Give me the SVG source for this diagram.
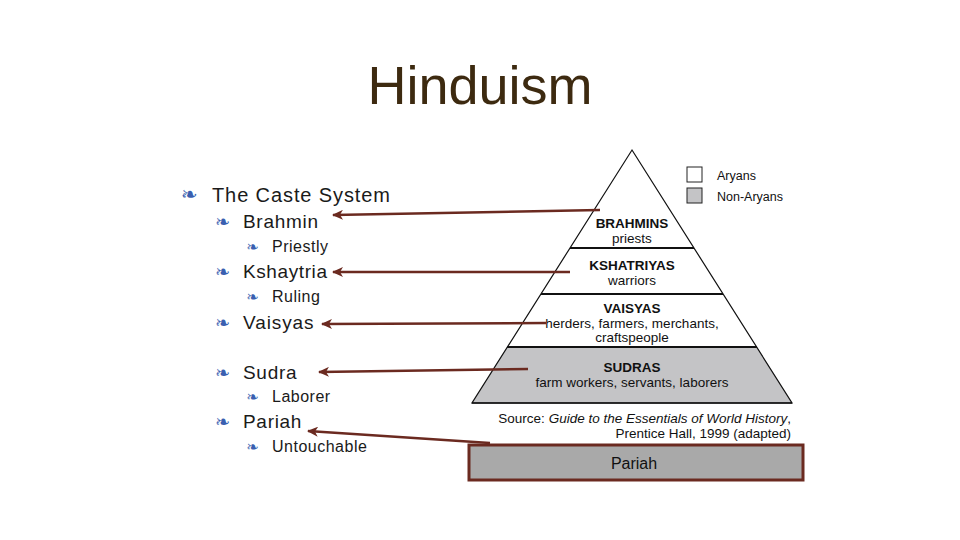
<svg xmlns="http://www.w3.org/2000/svg" width="960" height="540" viewBox="0 0 960 540">
<style>
.t{font-family:"Liberation Sans",Arial,sans-serif;fill:#1a1a1a}
.b{font-family:"DejaVu Sans",sans-serif;fill:#3a5fb0}
.p{font-family:"Liberation Sans",Arial,sans-serif;fill:#111;text-anchor:middle}
.c{stroke:#6b2a20;stroke-width:2.5;fill:none;marker-end:url(#ah)}
.ln{stroke:#111;stroke-width:2}
</style>
<defs>
<marker id="ah" markerWidth="12" markerHeight="10" refX="10" refY="5" orient="auto" markerUnits="userSpaceOnUse">
<path d="M0,0 L11,5 L0,10 L3,5 Z" fill="#6b2a20"/>
</marker>
</defs>
<rect width="960" height="540" fill="#fff"/>
<text x="480" y="104" text-anchor="middle" font-family="Liberation Sans,Arial,sans-serif" font-size="54" fill="#3d2a10">Hinduism</text>

<g id="outline">
<text class="b" x="181" y="201" font-size="20">❧</text><text class="t" x="212" y="202" font-size="20" letter-spacing="0.9">The Caste System</text>
<text class="b" x="215" y="228" font-size="18">❧</text><text class="t" x="243" y="228" font-size="19" letter-spacing="0.7">Brahmin</text>
<text class="b" x="246" y="252" font-size="15">❧</text><text class="t" x="272" y="252" font-size="16" letter-spacing="0.5">Priestly</text>
<text class="b" x="215" y="278" font-size="18">❧</text><text class="t" x="243" y="278" font-size="19" letter-spacing="0.6">Kshaytria</text>
<text class="b" x="246" y="302" font-size="15">❧</text><text class="t" x="272" y="302" font-size="16" letter-spacing="0.5">Ruling</text>
<text class="b" x="215" y="329" font-size="18">❧</text><text class="t" x="243" y="329" font-size="19" letter-spacing="0.9">Vaisyas</text>
<text class="b" x="215" y="379" font-size="18">❧</text><text class="t" x="243" y="379" font-size="19" letter-spacing="0.7">Sudra</text>
<text class="b" x="246" y="402" font-size="15">❧</text><text class="t" x="272" y="402" font-size="16" letter-spacing="0.5">Laborer</text>
<text class="b" x="215" y="428" font-size="18">❧</text><text class="t" x="243" y="428" font-size="19" letter-spacing="0.7">Pariah</text>
<text class="b" x="246" y="452" font-size="15">❧</text><text class="t" x="272" y="452" font-size="16" letter-spacing="0.5">Untouchable</text>
</g>

<g id="pyramid">
<polygon points="507,347 757,347 792,403 472,403" fill="#c4c4c6"/>
<polygon points="632,150 792,403 472,403" fill="none" stroke="#111" stroke-width="1.2"/>
<line class="ln" x1="570" y1="248" x2="694" y2="248"/>
<line class="ln" x1="541" y1="294" x2="723" y2="294"/>
<line class="ln" x1="507" y1="347" x2="757" y2="347"/>
<line x1="472" y1="403" x2="792" y2="403" stroke="#111" stroke-width="1.5"/>
</g>
<g id="brahmins"><text class="p" x="632" y="228" font-size="13.5" font-weight="bold">BRAHMINS</text><text class="p" x="632" y="243" font-size="13.5">priests</text></g>
<g id="kshatriyas"><text class="p" x="632" y="270" font-size="13.5" font-weight="bold">KSHATRIYAS</text><text class="p" x="632" y="285" font-size="13.5">warriors</text></g>
<g id="vaisyas"><text class="p" x="632" y="313" font-size="13.5" font-weight="bold">VAISYAS</text><text class="p" x="632" y="328" font-size="13.5">herders, farmers, merchants,</text><text class="p" x="632" y="342" font-size="13.5">craftspeople</text></g>
<g id="sudras"><text class="p" x="632" y="372" font-size="13.5" font-weight="bold">SUDRAS</text><text class="p" x="632" y="387" font-size="13.5">farm workers, servants, laborers</text></g>
<g id="source">
<text x="791" y="423" text-anchor="end" font-family="Liberation Sans,Arial,sans-serif" font-size="13.5" fill="#111">Source: <tspan font-style="italic">Guide to the Essentials of World History</tspan>,</text>
<text x="791" y="438" text-anchor="end" font-family="Liberation Sans,Arial,sans-serif" font-size="13.5" fill="#111">Prentice Hall, 1999 (adapted)</text>
</g>
<g id="legend">
<rect x="687" y="167" width="15" height="15" fill="#fff" stroke="#222" stroke-width="1"/>
<rect x="687" y="188" width="15" height="15" fill="#c4c4c6" stroke="#222" stroke-width="1"/>
<text x="717" y="180" font-family="Liberation Sans,Arial,sans-serif" font-size="12.5" fill="#111">Aryans</text>
<text x="717" y="201" font-family="Liberation Sans,Arial,sans-serif" font-size="12.5" fill="#111">Non-Aryans</text>
</g>
<g id="pariah">
<rect x="469" y="445" width="334" height="35" fill="#a9a9a9" stroke="#6b2a20" stroke-width="3"/>
<text class="p" x="634" y="469" font-size="16">Pariah</text>
</g>
<g id="connectors">
<path class="c" d="M600,210 L333,215"/>
<path class="c" d="M570,272 L333,272"/>
<path class="c" d="M546,323 L322,324"/>
<path class="c" d="M528,369 L319,372"/>
<path class="c" d="M490,443 L308,431"/>
</g>
</svg>
